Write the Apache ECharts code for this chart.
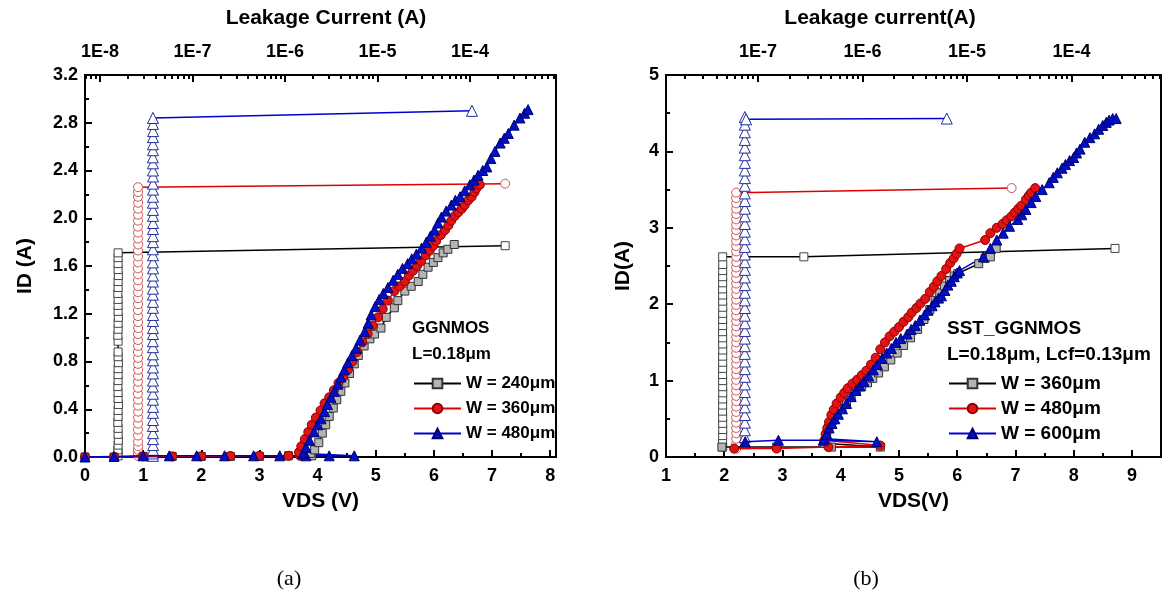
<!DOCTYPE html>
<html><head><meta charset="utf-8">
<script src="https://cdn.jsdelivr.net/npm/echarts@6/dist/echarts.min.js"></script>
<style>html,body{margin:0;padding:0;background:#fff}#c{width:1176px;height:603px}</style>
</head><body><div id="c"></div>
<script>
// ---------- tick labels ----------
const vdsTicksA = [0,1,2,3,4,5,6,7,8];
const vdsMinorA = [0.5,1.5,2.5,3.5,4.5,5.5,6.5,7.5];
const vdsTicksB = [1,2,3,4,5,6,7,8,9];
const vdsMinorB = [1.5,2.5,3.5,4.5,5.5,6.5,7.5,8.5];
const idTicksA = [0,0.4,0.8,1.2,1.6,2.0,2.4,2.8,3.2];
const idMinorA = [0.2,0.6,1.0,1.4,1.8,2.2,2.6,3.0];
const idTicksB = [0,1,2,3,4,5];
const idMinorB = [0.5,1.5,2.5,3.5,4.5];
const leakDecadesA = [-8,-7,-6,-5,-4];
const leakDecadesB = [-7,-6,-5,-4];
const minorMult = [2,3,4,5,6,7,8,9];

// ---------- (a) TLP I-V : [VDS (V), ID (A)] ----------
const tlpA240 = [[0,0],[0.5,0],[1,0.005],[1.5,0.005],[2,0.005],[2.5,0.005],[3,0.005],[3.5,0.01],[3.9,0.01],[3.88,0.03],[3.95,0.06],[4.02,0.12],[4.08,0.2],[4.14,0.27],[4.2,0.34],[4.27,0.41],[4.33,0.48],[4.4,0.55],[4.47,0.62],[4.55,0.7],[4.63,0.78],[4.7,0.85],[4.8,0.93],[4.9,0.99],[4.98,1.03],[5.09,1.08],[5.18,1.17],[5.32,1.25],[5.38,1.31],[5.5,1.39],[5.61,1.43],[5.73,1.47],[5.81,1.53],[5.9,1.59],[5.99,1.63],[6.07,1.67],[6.16,1.71],[6.24,1.74],[6.35,1.78]];
const tlpA360 = [[0,0],[0.5,0],[1,0.005],[1.5,0.005],[2,0.005],[2.5,0.008],[3,0.01],[3.5,0.01],[3.7,0.01],[3.68,0.04],[3.72,0.09],[3.78,0.15],[3.84,0.21],[3.9,0.27],[3.97,0.33],[4.05,0.39],[4.12,0.45],[4.2,0.5],[4.28,0.56],[4.36,0.62],[4.44,0.67],[4.52,0.73],[4.6,0.8],[4.68,0.88],[4.77,0.96],[4.86,1.03],[4.95,1.1],[5.04,1.17],[5.12,1.24],[5.21,1.31],[5.32,1.39],[5.41,1.43],[5.5,1.47],[5.57,1.52],[5.64,1.56],[5.71,1.6],[5.78,1.64],[5.86,1.69],[5.93,1.73],[5.99,1.77],[6.04,1.81],[6.12,1.86],[6.19,1.9],[6.25,1.94],[6.3,1.98],[6.36,2.02],[6.42,2.05],[6.48,2.08],[6.53,2.11],[6.59,2.15],[6.65,2.18],[6.7,2.22],[6.73,2.25],[6.79,2.28]];
const tlpA480 = [[0,0],[0.5,0.005],[1.0,0.01],[1.45,0.01],[1.92,0.01],[2.4,0.01],[2.9,0.01],[3.35,0.01],[3.8,0.01],[4.2,0.01],[4.63,0.01],[3.75,0.03],[3.8,0.08],[3.86,0.14],[3.94,0.21],[4.0,0.27],[4.06,0.32],[4.12,0.38],[4.17,0.44],[4.23,0.5],[4.29,0.55],[4.35,0.61],[4.4,0.67],[4.46,0.73],[4.52,0.79],[4.59,0.85],[4.66,0.91],[4.73,0.98],[4.81,1.05],[4.87,1.12],[4.92,1.19],[4.99,1.26],[5.06,1.32],[5.13,1.37],[5.21,1.42],[5.3,1.48],[5.38,1.53],[5.46,1.58],[5.55,1.62],[5.62,1.66],[5.7,1.7],[5.79,1.75],[5.87,1.8],[5.94,1.85],[6.01,1.9],[6.07,1.96],[6.13,2.01],[6.21,2.06],[6.3,2.11],[6.37,2.15],[6.45,2.18],[6.53,2.23],[6.62,2.28],[6.69,2.32],[6.76,2.36],[6.84,2.4],[6.91,2.43],[6.98,2.5],[7.05,2.56],[7.14,2.63],[7.21,2.67],[7.28,2.71],[7.38,2.78],[7.48,2.84],[7.56,2.88],[7.62,2.91]];

// ---------- (a) leakage : ID steps (A) and leakage current (A) ----------
const colA240_I = [0.01,0.03,0.06,0.1,0.14,0.19,0.24,0.29,0.34,0.39,0.44,0.49,0.54,0.59,0.64,0.69,0.74,0.79,0.84,0.88,0.97,1.02,1.07,1.12,1.17,1.22,1.27,1.32,1.37,1.42,1.47,1.52,1.57,1.62,1.67,1.71,1.77];
const colA240_L = [1.57e-8,1.57e-8,1.56e-8,1.57e-8,1.58e-8,1.57e-8,1.57e-8,1.56e-8,1.57e-8,1.57e-8,1.58e-8,1.57e-8,1.57e-8,1.56e-8,1.57e-8,1.57e-8,1.57e-8,1.58e-8,1.57e-8,1.57e-8,1.57e-8,1.56e-8,1.57e-8,1.57e-8,1.58e-8,1.57e-8,1.57e-8,1.57e-8,1.56e-8,1.57e-8,1.57e-8,1.58e-8,1.57e-8,1.57e-8,1.57e-8,1.57e-8,2.4e-4];
const colA360_I = [0.01,0.03,0.06,0.09,0.13,0.18,0.23,0.28,0.33,0.38,0.43,0.48,0.53,0.58,0.63,0.68,0.73,0.78,0.83,0.88,0.93,0.98,1.03,1.08,1.13,1.18,1.23,1.28,1.33,1.38,1.43,1.48,1.53,1.58,1.63,1.68,1.73,1.78,1.83,1.88,1.93,1.98,2.03,2.08,2.13,2.18,2.22,2.26,2.29];
const colA360_L = [2.58e-8,2.57e-8,2.58e-8,2.59e-8,2.58e-8,2.58e-8,2.57e-8,2.58e-8,2.58e-8,2.59e-8,2.58e-8,2.58e-8,2.57e-8,2.58e-8,2.58e-8,2.58e-8,2.59e-8,2.58e-8,2.58e-8,2.57e-8,2.58e-8,2.58e-8,2.58e-8,2.59e-8,2.58e-8,2.58e-8,2.57e-8,2.58e-8,2.58e-8,2.58e-8,2.59e-8,2.58e-8,2.58e-8,2.57e-8,2.58e-8,2.58e-8,2.58e-8,2.59e-8,2.58e-8,2.58e-8,2.57e-8,2.58e-8,2.58e-8,2.58e-8,2.59e-8,2.58e-8,2.58e-8,2.58e-8,2.4e-4];
const colA480_I = [0.01,0.03,0.06,0.1,0.15,0.2,0.26,0.31,0.37,0.42,0.48,0.53,0.59,0.64,0.7,0.75,0.81,0.86,0.92,0.97,1.03,1.08,1.14,1.19,1.25,1.3,1.36,1.41,1.47,1.52,1.58,1.63,1.69,1.74,1.8,1.85,1.91,1.96,2.02,2.07,2.13,2.18,2.24,2.29,2.35,2.4,2.46,2.51,2.57,2.62,2.68,2.73,2.79,2.84,2.90];
const colA480_L = [3.74e-8,3.73e-8,3.74e-8,3.75e-8,3.74e-8,3.74e-8,3.73e-8,3.74e-8,3.74e-8,3.75e-8,3.74e-8,3.74e-8,3.73e-8,3.74e-8,3.74e-8,3.74e-8,3.75e-8,3.74e-8,3.74e-8,3.73e-8,3.74e-8,3.74e-8,3.74e-8,3.75e-8,3.74e-8,3.74e-8,3.73e-8,3.74e-8,3.74e-8,3.74e-8,3.75e-8,3.74e-8,3.74e-8,3.73e-8,3.74e-8,3.74e-8,3.74e-8,3.75e-8,3.74e-8,3.74e-8,3.73e-8,3.74e-8,3.74e-8,3.74e-8,3.75e-8,3.74e-8,3.74e-8,3.73e-8,3.74e-8,3.74e-8,3.74e-8,3.75e-8,3.74e-8,3.74e-8,1.05e-4];

// ---------- (b) TLP I-V ----------
const tlpB360 = [[1.96,0.13],[2.9,0.13],[3.84,0.13],[4.68,0.13],[3.72,0.18],[3.76,0.3],[3.8,0.4],[3.86,0.48],[3.94,0.56],[4.02,0.64],[4.1,0.72],[4.18,0.79],[4.27,0.86],[4.36,0.92],[4.46,0.97],[4.55,1.03],[4.65,1.1],[4.75,1.18],[4.86,1.27],[4.97,1.36],[5.08,1.46],[5.2,1.56],[5.32,1.67],[5.43,1.8],[5.53,1.93],[5.62,2.05],[5.7,2.15],[5.78,2.24],[5.87,2.31],[5.95,2.37],[6.01,2.4],[6.37,2.53],[6.48,2.6],[6.57,2.62],[6.67,2.73]];
const tlpB480 = [[2.17,0.11],[2.9,0.11],[3.79,0.13],[4.68,0.15],[3.72,0.22],[3.74,0.3],[3.77,0.38],[3.8,0.46],[3.84,0.55],[3.88,0.62],[3.93,0.7],[4.0,0.78],[4.06,0.84],[4.12,0.9],[4.2,0.96],[4.28,1.01],[4.36,1.07],[4.44,1.13],[4.52,1.21],[4.6,1.3],[4.68,1.41],[4.76,1.5],[4.84,1.58],[4.92,1.64],[5.0,1.7],[5.08,1.77],[5.16,1.83],[5.22,1.89],[5.3,1.95],[5.37,2.01],[5.45,2.07],[5.53,2.16],[5.6,2.23],[5.66,2.3],[5.73,2.37],[5.81,2.46],[5.88,2.54],[5.94,2.6],[5.99,2.66],[6.04,2.73],[6.48,2.84],[6.57,2.93],[6.68,3.0],[6.78,3.05],[6.85,3.1],[6.93,3.15],[6.99,3.2],[7.05,3.25],[7.1,3.29],[7.18,3.37],[7.23,3.42],[7.27,3.46],[7.34,3.52]];
const tlpB600 = [[2.36,0.2],[2.93,0.22],[3.7,0.22],[4.62,0.2],[3.72,0.24],[3.76,0.3],[3.8,0.38],[3.85,0.44],[3.9,0.5],[3.96,0.56],[4.03,0.63],[4.1,0.7],[4.18,0.79],[4.26,0.87],[4.33,0.93],[4.4,0.99],[4.48,1.06],[4.56,1.14],[4.63,1.21],[4.71,1.29],[4.79,1.36],[4.87,1.42],[4.95,1.5],[5.03,1.55],[5.14,1.61],[5.21,1.67],[5.28,1.72],[5.36,1.79],[5.44,1.86],[5.5,1.92],[5.57,1.98],[5.62,2.03],[5.68,2.08],[5.73,2.11],[5.79,2.18],[5.84,2.25],[5.9,2.3],[5.95,2.36],[6.0,2.41],[6.04,2.44],[6.45,2.62],[6.57,2.73],[6.68,2.84],[6.79,2.93],[6.9,3.02],[7.04,3.11],[7.11,3.17],[7.18,3.24],[7.27,3.33],[7.35,3.41],[7.46,3.5],[7.58,3.59],[7.65,3.66],[7.72,3.72],[7.8,3.78],[7.86,3.83],[7.93,3.88],[8.0,3.92],[8.05,3.98],[8.11,4.03],[8.19,4.12],[8.28,4.18],[8.36,4.23],[8.43,4.29],[8.5,4.34],[8.56,4.38],[8.61,4.41],[8.67,4.43],[8.73,4.43]];

// ---------- (b) leakage ----------
const colB360_I = [0.13,0.2,0.28,0.36,0.44,0.52,0.6,0.68,0.76,0.84,0.92,1.0,1.08,1.16,1.24,1.32,1.4,1.48,1.56,1.64,1.72,1.8,1.88,1.96,2.04,2.12,2.2,2.28,2.36,2.44,2.52,2.62,2.62,2.73];
const colB360_L = [4.6e-8,4.59e-8,4.6e-8,4.61e-8,4.6e-8,4.6e-8,4.59e-8,4.6e-8,4.6e-8,4.61e-8,4.6e-8,4.6e-8,4.59e-8,4.6e-8,4.6e-8,4.6e-8,4.61e-8,4.6e-8,4.6e-8,4.59e-8,4.6e-8,4.6e-8,4.6e-8,4.61e-8,4.6e-8,4.6e-8,4.59e-8,4.6e-8,4.6e-8,4.6e-8,4.61e-8,4.6e-8,2.75e-7,2.6e-4];
const colB480_I = [0.11,0.17,0.24,0.31,0.38,0.45,0.52,0.59,0.66,0.73,0.8,0.87,0.94,1.01,1.08,1.15,1.22,1.29,1.36,1.43,1.5,1.57,1.64,1.71,1.78,1.85,1.92,1.99,2.06,2.13,2.2,2.27,2.34,2.41,2.48,2.55,2.62,2.69,2.76,2.83,2.9,2.97,3.04,3.11,3.18,3.25,3.32,3.39,3.46,3.52];
const colB480_L = [6.2e-8,6.19e-8,6.2e-8,6.21e-8,6.2e-8,6.2e-8,6.19e-8,6.2e-8,6.2e-8,6.21e-8,6.2e-8,6.2e-8,6.19e-8,6.2e-8,6.2e-8,6.2e-8,6.21e-8,6.2e-8,6.2e-8,6.19e-8,6.2e-8,6.2e-8,6.2e-8,6.21e-8,6.2e-8,6.2e-8,6.19e-8,6.2e-8,6.2e-8,6.2e-8,6.21e-8,6.2e-8,6.2e-8,6.19e-8,6.2e-8,6.2e-8,6.2e-8,6.21e-8,6.2e-8,6.2e-8,6.19e-8,6.2e-8,6.2e-8,6.2e-8,6.21e-8,6.2e-8,6.2e-8,6.19e-8,6.2e-8,2.67e-5];
const colB600_I = [0.18,0.26,0.35,0.45,0.55,0.65,0.75,0.85,0.95,1.05,1.15,1.25,1.35,1.45,1.55,1.65,1.75,1.85,1.95,2.05,2.15,2.25,2.35,2.45,2.55,2.65,2.75,2.85,2.95,3.05,3.15,3.25,3.35,3.45,3.55,3.65,3.75,3.85,3.95,4.05,4.15,4.25,4.35,4.45,4.42,4.43];
const colB600_L = [7.5e-8,7.49e-8,7.5e-8,7.51e-8,7.5e-8,7.5e-8,7.49e-8,7.5e-8,7.5e-8,7.51e-8,7.5e-8,7.5e-8,7.49e-8,7.5e-8,7.5e-8,7.5e-8,7.51e-8,7.5e-8,7.5e-8,7.49e-8,7.5e-8,7.5e-8,7.5e-8,7.51e-8,7.5e-8,7.5e-8,7.49e-8,7.5e-8,7.5e-8,7.5e-8,7.51e-8,7.5e-8,7.5e-8,7.49e-8,7.5e-8,7.5e-8,7.5e-8,7.51e-8,7.5e-8,7.5e-8,7.49e-8,7.5e-8,7.5e-8,7.5e-8,7.7e-8,6.4e-6];

const legendNames = {a240:'W = 240\u03bcm', a360:'W = 360\u03bcm', a480:'W = 480\u03bcm', b360:'W = 360\u03bcm', b480:'W = 480\u03bcm', b600:'W = 600\u03bcm'};

// ---------- layout ----------
const FONT = '"Liberation Sans", Arial, sans-serif';
const G = [
  {left:85, top:75, w:471, h:382, vmin:0, vmax:8.1, imax:3.2, lmin:-8.162, lmax:-3.070},
  {left:666, top:75, w:495, h:382, vmin:1, vmax:9.5, imax:5, lmin:-7.879, lmax:-3.145}
];
const log = v => Math.log10(v);
function minorLogs(lo, hi){
  const out=[];
  for (let d=Math.floor(lo)-1; d<=Math.ceil(hi); d++) for (const m of minorMult){ const v=d+log(m); if(v>lo && v<hi) out.push(v);} return out;
}
const lblStyle = {fontFamily:FONT, fontWeight:'bold', fontSize:18, color:'#000'};
const nameStyle = {fontFamily:FONT, fontWeight:'bold', fontSize:21, color:'#000'};
const lineAx = {show:true, lineStyle:{color:'#000', width:2}};
function tick(vals, len){ return {show:true, inside:true, length:len, customValues:vals, lineStyle:{color:'#000', width:2}}; }

const grids=[], xAxes=[], yAxes=[];
const cfg = [
  {vt:vdsTicksA, vm:vdsMinorA, it:idTicksA, im:idMinorA, ld:leakDecadesA, idfmt:v=>v.toFixed(1), xname:'VDS (V)', yname:'ID (A)', ygap:49},
  {vt:vdsTicksB, vm:vdsMinorB, it:idTicksB, im:idMinorB, ld:leakDecadesB, idfmt:v=>String(v), xname:'VDS(V)', yname:'ID(A)', ygap:32}
];
G.forEach((g,i)=>{
  const c = cfg[i];
  grids.push({left:g.left, top:g.top, width:g.w, height:g.h, show:true, borderColor:'#000', borderWidth:2, containLabel:false});
  xAxes.push({gridIndex:i, type:'value', position:'bottom', min:g.vmin, max:g.vmax, axisLine:lineAx, axisTick:tick(c.vt,7), splitLine:{show:false},
    axisLabel:{customValues:c.vt, margin:10, ...lblStyle}, name:c.xname, nameLocation:'middle', nameGap:34, nameTextStyle:nameStyle});
  xAxes.push({gridIndex:i, type:'value', position:'bottom', min:g.vmin, max:g.vmax, axisLine:{show:false}, axisTick:tick(c.vm,4), axisLabel:{show:false}, splitLine:{show:false}});
  xAxes.push({gridIndex:i, type:'value', position:'top', min:g.lmin, max:g.lmax, axisLine:lineAx, axisTick:tick(c.ld,7), splitLine:{show:false},
    axisLabel:{customValues:c.ld, margin:14, formatter:v=>'1E'+Math.round(v), ...lblStyle}});
  xAxes.push({gridIndex:i, type:'value', position:'top', min:g.lmin, max:g.lmax, axisLine:{show:false}, axisTick:tick(minorLogs(g.lmin,g.lmax),4), axisLabel:{show:false}, splitLine:{show:false}});
  yAxes.push({gridIndex:i, type:'value', position:'left', min:0, max:g.imax, axisLine:lineAx, axisTick:tick(c.it,7), splitLine:{show:false},
    axisLabel:{customValues:c.it, margin:7, formatter:c.idfmt, ...lblStyle}, name:c.yname, nameLocation:'middle', nameGap:c.ygap, nameTextStyle:nameStyle});
  yAxes.push({gridIndex:i, type:'value', position:'left', min:0, max:g.imax, axisLine:{show:false}, axisTick:tick(c.im,4), axisLabel:{show:false}, splitLine:{show:false}});
});

const styles = {
  k:{tlp:{symbol:'rect', symbolSize:8, item:{color:'#b4b4b4', borderColor:'#333', borderWidth:1}, line:'#000'},
     leak:{symbol:'rect', symbolSize:8, item:{color:'#fff', borderColor:'#444', borderWidth:1}, line:'#000'}},
  r:{tlp:{symbol:'circle', symbolSize:9, item:{color:'#e41212', borderColor:'#8a0000', borderWidth:1}, line:'#e00000'},
     leak:{symbol:'circle', symbolSize:9, item:{color:'#fff', borderColor:'#d05555', borderWidth:1}, line:'#e00000'}},
  b:{tlp:{symbol:'triangle', symbolSize:10, item:{color:'#0010c8', borderColor:'#000070', borderWidth:1}, line:'#0000d0'},
     leak:{symbol:'triangle', symbolSize:11, item:{color:'#fff', borderColor:'#2030a0', borderWidth:1}, line:'#0000d0'}}
};
function tlpSeries(name, data, gi, st){
  return {name, type:'line', xAxisIndex:gi*4, yAxisIndex:gi*2, data, symbol:st.symbol, symbolSize:st.symbolSize, showAllSymbol:true,
    itemStyle:st.item, lineStyle:{color:st.line, width:1.5}, z:3, animation:false, emphasis:{disabled:true}};
}
function leakSeries(I, L, gi, st){
  return {type:'line', xAxisIndex:gi*4+2, yAxisIndex:gi*2, data:I.map((v,k)=>[log(L[k]), v]), symbol:st.symbol, symbolSize:st.symbolSize, showAllSymbol:true,
    itemStyle:st.item, lineStyle:{color:st.line, width:1.5}, z:2, animation:false, emphasis:{disabled:true}};
}
const series = [
  leakSeries(colA240_I, colA240_L, 0, styles.k.leak),
  leakSeries(colA360_I, colA360_L, 0, styles.r.leak),
  leakSeries(colA480_I, colA480_L, 0, styles.b.leak),
  tlpSeries('a240', tlpA240, 0, styles.k.tlp),
  tlpSeries('a360', tlpA360, 0, styles.r.tlp),
  tlpSeries('a480', tlpA480, 0, styles.b.tlp),
  leakSeries(colB360_I, colB360_L, 1, styles.k.leak),
  leakSeries(colB480_I, colB480_L, 1, styles.r.leak),
  leakSeries(colB600_I, colB600_L, 1, styles.b.leak),
  tlpSeries('b360', tlpB360, 1, styles.k.tlp),
  tlpSeries('b480', tlpB480, 1, styles.r.tlp),
  tlpSeries('b600', tlpB600, 1, styles.b.tlp)
];
function legend(names, left, fs){
  return {data:names, left, top:374, orient:'vertical', itemWidth:47, itemHeight:12, itemGap:6, selectedMode:false, padding:0,
    formatter:n=>legendNames[n], textStyle:{fontFamily:FONT, fontWeight:'bold', fontSize:fs, color:'#000', lineHeight:19}};
}
const tA = {fontFamily:FONT, fontWeight:'bold', fontSize:17, color:'#000'};
const tB = {fontFamily:FONT, fontWeight:'bold', fontSize:19, color:'#000'};
const serif = {fontFamily:'"Liberation Serif", "Times New Roman", serif', fontWeight:'normal', fontSize:22, color:'#000'};
const chart = echarts.init(document.getElementById('c'), null, {renderer:'canvas'});
chart.setOption({
  animation:false,
  backgroundColor:'#fff',
  grid:grids, xAxis:xAxes, yAxis:yAxes, series,
  legend:[legend(['a240','a360','a480'], 413, 17), legend(['b360','b480','b600'], 948, 19)],
  title:[
    {text:'Leakage Current (A)', left:326, top:8, textAlign:'center', padding:0, textStyle:nameStyle},
    {text:'Leakage current(A)', left:880, top:8, textAlign:'center', padding:0, textStyle:nameStyle},
    {text:'GGNMOS', left:412, top:320, padding:0, textStyle:tA},
    {text:'L=0.18\u03bcm', left:412, top:346, padding:0, textStyle:tA},
    {text:'SST_GGNMOS', left:947, top:319, padding:0, textStyle:tB},
    {text:'L=0.18\u03bcm, Lcf=0.13\u03bcm', left:947, top:345, padding:0, textStyle:tB},
    {text:'(a)', left:289, top:568, textAlign:'center', padding:0, textStyle:serif},
    {text:'(b)', left:866, top:568, textAlign:'center', padding:0, textStyle:serif}
  ]
});
</script></body></html>
